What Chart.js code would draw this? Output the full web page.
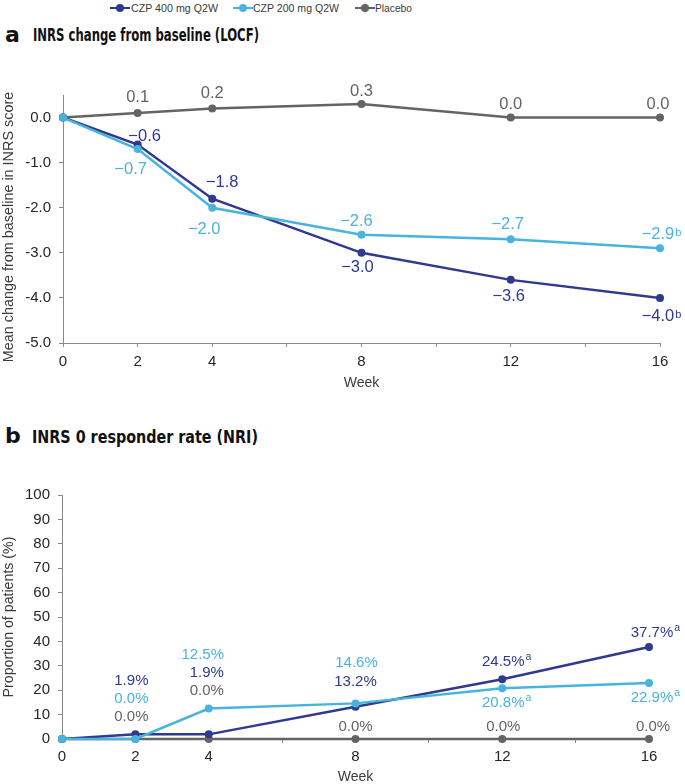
<!DOCTYPE html>
<html>
<head>
<meta charset="utf-8">
<script src="https://cdn.jsdelivr.net/npm/chart.js@4.4.1/dist/chart.umd.min.js"></script>
<style>
  html, body { margin: 0; padding: 0; background: #fff; }
  body { width: 685px; height: 784px; position: relative; overflow: hidden; font-family: "Liberation Sans", Arial, sans-serif; }
  .abs { position: absolute; white-space: nowrap; }
  .leg-text { font-size: 11.5px; color: #3a3a3a; line-height: 16px; transform-origin: left center; }
  .leg-line { height: 2.5px; width: 20px; }
  .leg-dot { width: 8px; height: 8px; border-radius: 50%; }
  .plet { font-family: "DejaVu Sans", sans-serif; font-weight: bold; font-size: 22px; line-height: 22px; color: #111; }
  .ptitle { font-family: "Liberation Sans Narrow", "DejaVu Sans Condensed", "Liberation Sans", sans-serif; font-weight: bold; font-size: 18px; line-height: 18px; color: #111; transform-origin: left center; }
</style>
</head>
<body>
<!-- legend -->
<div class="abs leg-line" style="left:110px;top:6.5px;background:#2E3A8F"></div>
<div class="abs leg-dot" style="left:116px;top:3.5px;background:#2E3A8F"></div>
<div class="abs leg-text" id="lt0" style="left:131px;top:0px"></div>
<div class="abs leg-line" style="left:233px;top:6.5px;background:#48B4DC"></div>
<div class="abs leg-dot" style="left:239px;top:3.5px;background:#48B4DC"></div>
<div class="abs leg-text" id="lt1" style="left:253px;top:0px"></div>
<div class="abs leg-line" style="left:355px;top:6.5px;background:#646464"></div>
<div class="abs leg-dot" style="left:361px;top:3.5px;background:#646464"></div>
<div class="abs leg-text" id="lt2" style="left:375px;top:0px"></div>

<!-- panel titles -->
<div class="abs plet" style="left:5px;top:24px">a</div>
<div class="abs ptitle" id="ta" style="left:33px;top:26px">INRS change from baseline (LOCF)</div>
<div class="abs plet" style="left:5px;top:425px">b</div>
<div class="abs ptitle" id="tb" style="left:32px;top:428px">INRS 0 responder rate (NRI)</div>

<div class="abs" style="left:0;top:60px;width:685px;height:335px"><canvas id="chartA" width="685" height="335"></canvas></div>
<div class="abs" style="left:0;top:440px;width:685px;height:344px"><canvas id="chartB" width="685" height="344"></canvas></div>

<script>
// ---------------- data ----------------
const weeks = [0, 2, 4, 8, 12, 16];
const weekTickLabels = ['0', '2', '4', '8', '12', '16'];
const seriesNames = ['CZP 400 mg Q2W', 'CZP 200 mg Q2W', 'Placebo'];

const inrsChange400 = [0, -0.6, -1.8, -3.0, -3.6, -4.0];
const inrsChange200 = [0, -0.7, -2.0, -2.6, -2.7, -2.9];
const inrsChangePlacebo = [0, 0.1, 0.2, 0.3, 0.0, 0.0];
const changeNotes400 = ['', '', '', '', '', 'b'];
const changeNotes200 = ['', '', '', '', '', 'b'];
const changeNotesPlacebo = ['', '', '', '', '', ''];
const changeYTicks = [0, -1, -2, -3, -4, -5];

const responder400 = [0, 1.9, 1.9, 13.2, 24.5, 37.7];
const responder200 = [0, 0.0, 12.5, 14.6, 20.8, 22.9];
const responderPlacebo = [0, 0.0, 0.0, 0.0, 0.0, 0.0];
const responderNotes400 = ['', '', '', '', 'a', 'a'];
const responderNotes200 = ['', '', '', '', 'a', 'a'];
const responderNotesPlacebo = ['', '', '', '', '', ''];
const responderYTicks = [0, 10, 20, 30, 40, 50, 60, 70, 80, 90, 100];

// ---------------- styles ----------------
const FONT = '"Liberation Sans", Arial, sans-serif';
const COLORS = ['#2E3A8F', '#48B4DC', '#646464'];
const AXIS_COLOR = '#8a8a8a';
const TICK_COLOR = '#262626';
const TITLE_COLOR = '#3a3a3a';

// label offsets (pixels, relative to the point) – layout only
const offsetsA = [
  [null, [7, -8], [10, -16], [-4, 15], [-2, 17], [-2, 18.5]],
  [null, [-7, 20], [-8, 22], [-5, -13], [-3, -15], [-2, -14]],
  [null, [0, -16], [0, -15], [0, -13], [0, -13], [-2, -13]]
];
const offsetsB = [
  [null, [-4, -53.4], [-2, -61.1], [0, -25.1], [1, -17.5], [3, -14.3]],
  [null, [-4, -40], [-6, -53.5], [1, -40.7], [1, 15.1], [3, 15.2]],
  [null, [-4, -22.3], [-2, -48.3], [0, -12.3], [1, -12.3], [4, -12.3]]
];

function toPoints(vals) { return weeks.map((w, i) => ({ x: w, y: vals[i] })); }

function fmtChange(v) { return (v < 0 ? '\u2212' : '') + Math.abs(v).toFixed(1); }
function fmtPct(v) { return v.toFixed(1) + '%'; }

function makeLabelPlugin(cfg) {
  return {
    id: 'valueLabels',
    afterDatasetsDraw(chart) {
      const ctx = chart.ctx;
      ctx.save();
      chart.data.datasets.forEach((ds, i) => {
        const meta = chart.getDatasetMeta(i);
        meta.data.forEach((el, j) => {
          const off = cfg.offsets[i][j];
          if (!off) return;
          const text = cfg.format(ds.data[j].y);
          const x = el.x + off[0];
          const y = el.y + off[1];
          ctx.fillStyle = COLORS[i];
          ctx.font = cfg.size + 'px ' + FONT;
          ctx.textAlign = 'center';
          ctx.textBaseline = 'middle';
          ctx.fillText(text, x, y);
          const note = cfg.notes[i][j];
          if (note) {
            const w = ctx.measureText(text).width;
            ctx.font = cfg.noteSize + 'px ' + FONT;
            ctx.textAlign = 'left';
            ctx.textBaseline = 'alphabetic';
            ctx.fillText(note, x + w / 2 + 1, y + cfg.noteDy);
          }
        });
      });
      ctx.restore();
    }
  };
}

function dataset(name, vals, idx, order) {
  return {
    label: name,
    data: toPoints(vals),
    borderColor: COLORS[idx],
    backgroundColor: COLORS[idx],
    pointBackgroundColor: COLORS[idx],
    pointBorderColor: COLORS[idx],
    pointRadius: 4,
    pointBorderWidth: 0,
    borderWidth: 2.5,
    tension: 0,
    clip: false,
    order: order
  };
}

function xScale(padTick, titlePadBottom, axisHeight) {
  return {
    type: 'linear', min: 0, max: 16,
    ticks: {
      stepSize: 2, padding: padTick, color: TICK_COLOR, font: { size: 15, family: FONT },
      autoSkip: false, maxRotation: 0,
      callback: (v) => { const k = weeks.indexOf(v); return k >= 0 ? weekTickLabels[k] : ''; }
    },
    grid: { display: true, drawOnChartArea: false, drawTicks: true, tickLength: 4, color: AXIS_COLOR, tickColor: AXIS_COLOR, lineWidth: 1 },
    border: { display: true, color: AXIS_COLOR, width: 1 },
    title: { display: true, text: 'Week', color: TITLE_COLOR, font: { size: 14, family: FONT, lineHeight: 1 }, padding: { top: 0, bottom: titlePadBottom } },
    afterFit: (s) => { s.height = axisHeight; }
  };
}

Chart.defaults.font.family = FONT;

// ---------------- chart a ----------------
new Chart(document.getElementById('chartA'), {
  type: 'line',
  data: {
    datasets: [
      dataset(seriesNames[0], inrsChange400, 0, 1),
      dataset(seriesNames[1], inrsChange200, 1, 0),
      dataset(seriesNames[2], inrsChangePlacebo, 2, 2)
    ]
  },
  options: {
    responsive: false, animation: false, events: [],
    layout: { padding: { top: 35, right: 25, left: 0, bottom: 0 } },
    plugins: { legend: { display: false }, tooltip: { enabled: false } },
    scales: {
      x: xScale(6, 5, 52),
      y: {
        type: 'linear', min: -5, max: 0.5,
        ticks: { stepSize: 1, padding: 8, color: TICK_COLOR, font: { size: 15, family: FONT }, callback: (v) => v.toFixed(1) },
        afterBuildTicks: (s) => { s.ticks = changeYTicks.slice().reverse().map(v => ({ value: v })); },
        grid: { display: true, drawOnChartArea: false, drawTicks: true, tickLength: 4, color: AXIS_COLOR, tickColor: AXIS_COLOR, lineWidth: 1 },
        border: { display: true, color: AXIS_COLOR, width: 1 },
        title: { display: true, text: 'Mean change from baseline in INRS score    ', color: TITLE_COLOR, font: { size: 14.4, family: FONT, lineHeight: 1 }, padding: { top: 2, bottom: 0 } },
        afterFit: (s) => { s.width = 63; }
      }
    }
  },
  plugins: [makeLabelPlugin({
    offsets: offsetsA, format: fmtChange, size: 16.5, noteSize: 11, noteDy: 1.5,
    notes: [changeNotes400, changeNotes200, changeNotesPlacebo]
  })]
});

// ---------------- chart b ----------------
new Chart(document.getElementById('chartB'), {
  type: 'line',
  data: {
    datasets: [
      dataset(seriesNames[0], responder400, 0, 1),
      dataset(seriesNames[1], responder200, 1, 0),
      dataset(seriesNames[2], responderPlacebo, 2, 2)
    ]
  },
  options: {
    responsive: false, animation: false, events: [],
    layout: { padding: { top: 55, right: 36, left: 0, bottom: 0 } },
    plugins: { legend: { display: false }, tooltip: { enabled: false } },
    scales: {
      x: xScale(5, 0, 45),
      y: {
        type: 'linear', min: 0, max: 100,
        ticks: { stepSize: 10, padding: 8, color: TICK_COLOR, font: { size: 15, family: FONT }, callback: (v) => String(v) },
        afterBuildTicks: (s) => { s.ticks = responderYTicks.map(v => ({ value: v })); },
        grid: { display: true, drawOnChartArea: false, drawTicks: true, tickLength: 4, color: AXIS_COLOR, tickColor: AXIS_COLOR, lineWidth: 1 },
        border: { display: true, color: AXIS_COLOR, width: 1 },
        title: { display: true, text: 'Proportion of patients (%)', color: TITLE_COLOR, font: { size: 14.2, family: FONT, lineHeight: 1 }, padding: { top: 2, bottom: 0 } },
        afterFit: (s) => { s.width = 62; }
      }
    }
  },
  plugins: [makeLabelPlugin({
    offsets: offsetsB, format: fmtPct, size: 15, noteSize: 10.5, noteDy: -2,
    notes: [responderNotes400, responderNotes200, responderNotesPlacebo]
  })]
});

// ---------------- legend text & title widths ----------------
['lt0', 'lt1', 'lt2'].forEach((id, i) => { document.getElementById(id).textContent = seriesNames[i]; });
function fitWidth(id, target) {
  const el = document.getElementById(id);
  const w = el.getBoundingClientRect().width;
  if (w > 0) el.style.transform = 'scaleX(' + (target / w) + ')';
}
fitWidth('lt0', 87);
fitWidth('lt1', 86);
fitWidth('lt2', 37);
fitWidth('ta', 226);
fitWidth('tb', 226);
</script>
</body>
</html>
